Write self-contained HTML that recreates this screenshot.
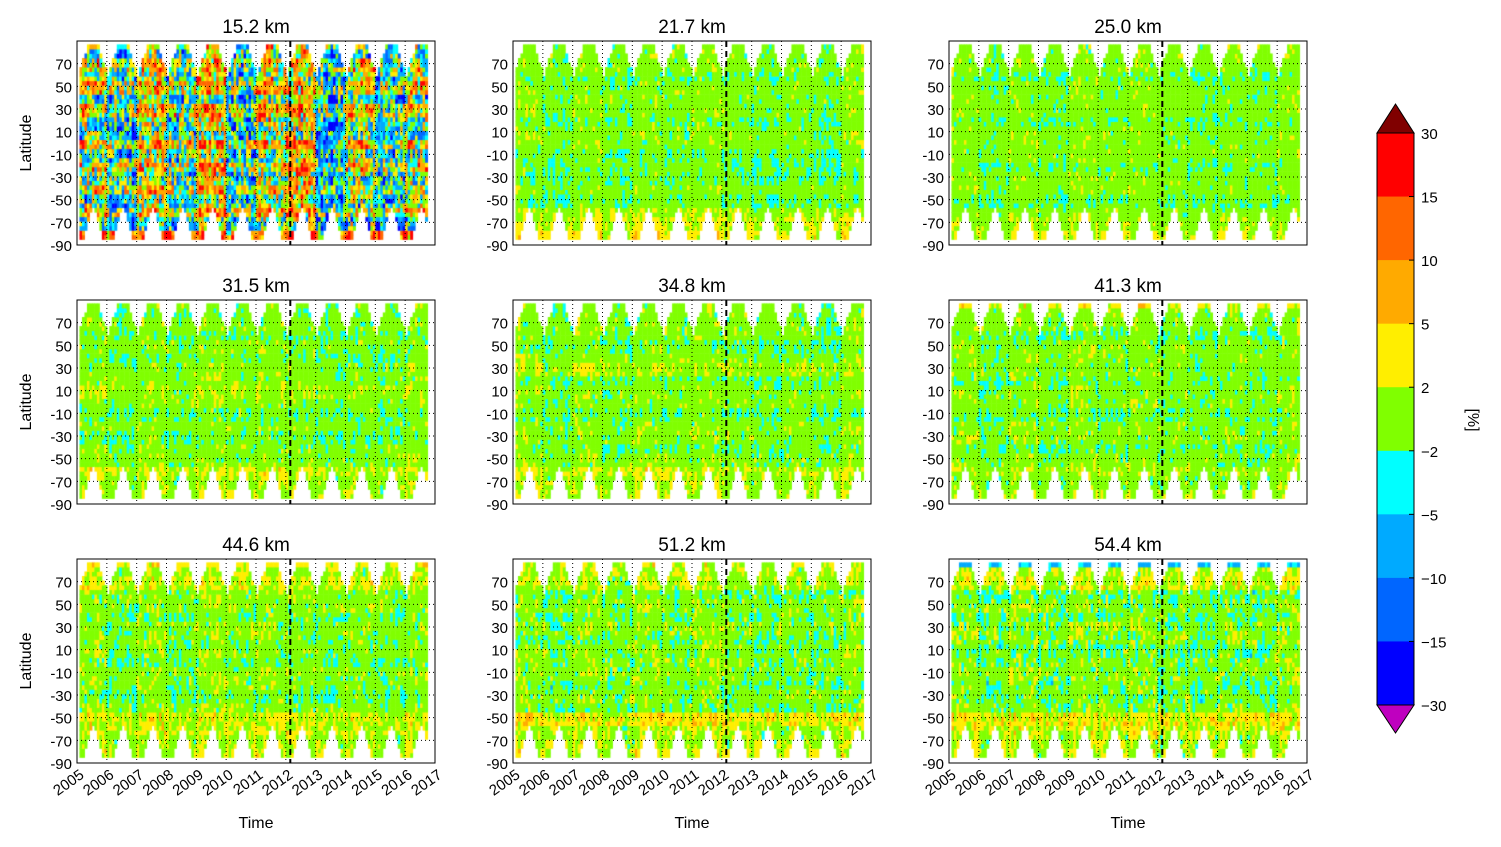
<!DOCTYPE html>
<html><head><meta charset="utf-8"><style>
body{margin:0;background:#fff;width:1501px;height:847px;position:relative;overflow:hidden;font-family:"Liberation Sans",sans-serif}
canvas{position:absolute}
svg{position:absolute;left:0;top:0}
</style></head><body>
<div id="root"></div>
<svg id="svg" width="1501" height="847"></svg>
<script>
// ---- data ----
const titles=["15.2 km","21.7 km","25.0 km","31.5 km","34.8 km","41.3 km","44.6 km","51.2 km","54.4 km"];
const yearTicks=[2005,2006,2007,2008,2009,2010,2011,2012,2013,2014,2015,2016,2017];
const latTicks=[-90,-70,-50,-30,-10,10,30,50,70];
const levels=[-30,-15,-10,-5,-2,2,5,10,15,30];
const levelColors=["#bf00bf","#0000ff","#0066ff","#00aaff","#00ffff","#80ff00","#ffee00","#ffaa00","#ff6600","#ff0000","#800000"];
const cbLabels=["30","15","10","5","2","\u22122","\u22125","\u221210","\u221215","\u221230"];
// per-panel band means (18 bands, -85..85)
const band1=[12,-6,4,-3,3,-2,4,-3,5,-4,-2,5,-5,4,-2,2,-3,0];
const band2=[3,2,1,-1,0,-1,-1,-1,0,0,-1,0,0,0,-1,0,0,0];
const band3=[2,1,0,-1,0,0,-1,0,0,0,-1,0,0,0,-1,0,0,0];
const band4=[1,1,2,0,0,-1,0,-1,0,1,0,0,-1,0,-1,0,-1,0];
const band5=[1,1,2,0,-1,0,0,-1,0,0,-1,1,0,-1,0,0,0,0];
const band6=[1,0,1,0,-1,0,0,-1,0,0,-1,0,0,0,-1,0,0,3];
const band7=[2,1,2,2,0,-1,0,0,-1,0,0,0,-1,0,0,2,1,3];
const band8=[2,1,1,3,-1,0,-1,0,0,0,-1,0,-1,0,-1,1,1,2];
const band9=[1,1,2,3,0,-1,-1,0,0,-1,0,0,-1,0,-1,2,1,-6];
const amps=[16,3,2.8,3.2,3.2,3.2,3.6,3.8,4.2];
// interannual anomaly per year 2005..2016 per panel
const years1=[1,-2,2,-1,3,-2,2,3,-3,1,-2,1];
const yearsOther=[0.5,-0.5,0.5,-0.5,0.5,0,0.5,0,-0.5,0,-0.5,0.5];
const bands=[band1,band2,band3,band4,band5,band6,band7,band8,band9];
// ---- layout ----
const colX=[77,513,949], rowY=[41,300,559], PW=358, PH=204;
const xs=(y0)=>v=>y0+(v-2005)/12*PW;
const ys=(t0)=>v=>t0+(90-v)/180*PH;
const svg=document.getElementById('svg');
const NS="http://www.w3.org/2000/svg";
function mk(tag,attrs,parent){const e=document.createElementNS(NS,tag);for(const k in attrs)e.setAttribute(k,attrs[k]);(parent||svg).appendChild(e);return e;}
function color(v){let i=0;while(i<levels.length&&v>=levels[i])i++;return levelColors[i];}
// texture (visual variation within bands)
function tex(a,b,s){const h=Math.sin(a*12.9898+b*78.233+s*37.719)*43758.5453;return (h-Math.floor(h))*2-1;}
for(let p=0;p<9;p++){
  const r=Math.floor(p/3),c=p%3,x0=colX[c],y0=rowY[r];
  const X=xs(x0),Y=ys(y0);
  const cv=document.createElement('canvas');cv.width=PW;cv.height=PH;
  cv.style.left=x0+'px';cv.style.top=y0+'px';
  
  
  document.body.insertBefore(cv,svg);
  const ctx=cv.getContext('2d');
  const b=bands[p],yr=p==0?years1:yearsOther;
  for(let m=1;m<141;m++){
    const t=2005+m/12, frac=(m%12)/12, yi=Math.floor(m/12);
    for(let la=-85;la<85;la+=4){
      const lat=la+2, ri=(la+85)/4;
      if(lat>58){const d=Math.min(frac,1-frac);if(d<(lat-58)/27*0.3)continue;}
      if(lat<-55){const d=Math.abs(frac-0.5);if(d<(-lat-55)/30*0.32)continue;}
      const bi=Math.min(17,Math.max(0,Math.floor((lat+85)/10)));
      const n=0.6*tex(m,Math.floor(ri/2),p)+0.4*tex(m,ri,p+3);
      const v=b[bi]+amps[p]*n+yr[yi]*(p==0?2:1);
      ctx.fillStyle=color(v);
      ctx.fillRect(X(t)-x0,Y(lat+2)-y0,X(t+1/12)-X(t)+0.5,Y(lat-2)-Y(lat+2)+0.5);
    }
  }
  const g=mk('g',{});
  yearTicks.forEach(yv=>{if(yv>2005&&yv<2017)mk('line',{x1:X(yv),x2:X(yv),y1:y0,y2:y0+PH,stroke:'#000','stroke-width':1,'stroke-dasharray':'1,3'},g);});
  latTicks.forEach(lv=>{if(lv>-90)mk('line',{x1:x0,x2:x0+PW,y1:Y(lv),y2:Y(lv),stroke:'#000','stroke-width':1,'stroke-dasharray':'1,3'},g);
    const tl=mk('text',{x:x0-5,y:Y(lv)+6,'text-anchor':'end','font-size':15},g);tl.textContent=lv;});
  mk('line',{x1:X(2012.15),x2:X(2012.15),y1:y0,y2:y0+PH,stroke:'#000','stroke-width':2,'stroke-dasharray':'6,4'},g);
  mk('rect',{x:x0,y:y0,width:PW,height:PH,fill:'none',stroke:'#000','stroke-width':1},g);
  const tt=mk('text',{x:x0+PW/2,y:y0-8,'text-anchor':'middle','font-size':19},g);tt.textContent=titles[p];
  if(c==0){const yl=mk('text',{x:0,y:0,'text-anchor':'middle','font-size':16,transform:`translate(31,${y0+PH/2}) rotate(-90)`},g);yl.textContent='Latitude';}
  if(r==2){
    yearTicks.forEach(yv=>{const tx=mk('text',{x:0,y:0,'text-anchor':'end','font-size':15,transform:`translate(${X(yv)+8},${y0+PH+14}) rotate(-35)`},g);tx.textContent=yv;});
    const xl=mk('text',{x:x0+PW/2,y:828,'text-anchor':'middle','font-size':16},g);xl.textContent='Time';
  }
}
// ---- colorbar ----
const cb=mk('g',{});
const cx0=1377,cw=37,ctop=133,cbot=705,seg=(cbot-ctop)/9;
for(let i=0;i<9;i++){mk('rect',{x:cx0,y:ctop+i*seg,width:cw,height:seg+0.5,fill:levelColors[9-i]},cb);}
mk('polygon',{points:`${cx0},${ctop} ${cx0+cw},${ctop} ${cx0+cw/2},104`,fill:levelColors[10],stroke:'#000'},cb);
mk('polygon',{points:`${cx0},${cbot} ${cx0+cw},${cbot} ${cx0+cw/2},733`,fill:levelColors[0],stroke:'#000'},cb);
mk('rect',{x:cx0,y:ctop,width:cw,height:cbot-ctop,fill:'none',stroke:'#000'},cb);
cbLabels.forEach((l,i)=>{const y=ctop+i*seg;mk('line',{x1:cx0+cw-5,x2:cx0+cw,y1:y,y2:y,stroke:'#000'},cb);
  const t=mk('text',{x:1421,y:y+6,'font-size':15},cb);t.textContent=l;});
const u=mk('text',{x:0,y:0,'text-anchor':'middle','font-size':16,transform:'translate(1468,420) rotate(90)'},cb);u.textContent='[%]';
</script>
</body></html>
